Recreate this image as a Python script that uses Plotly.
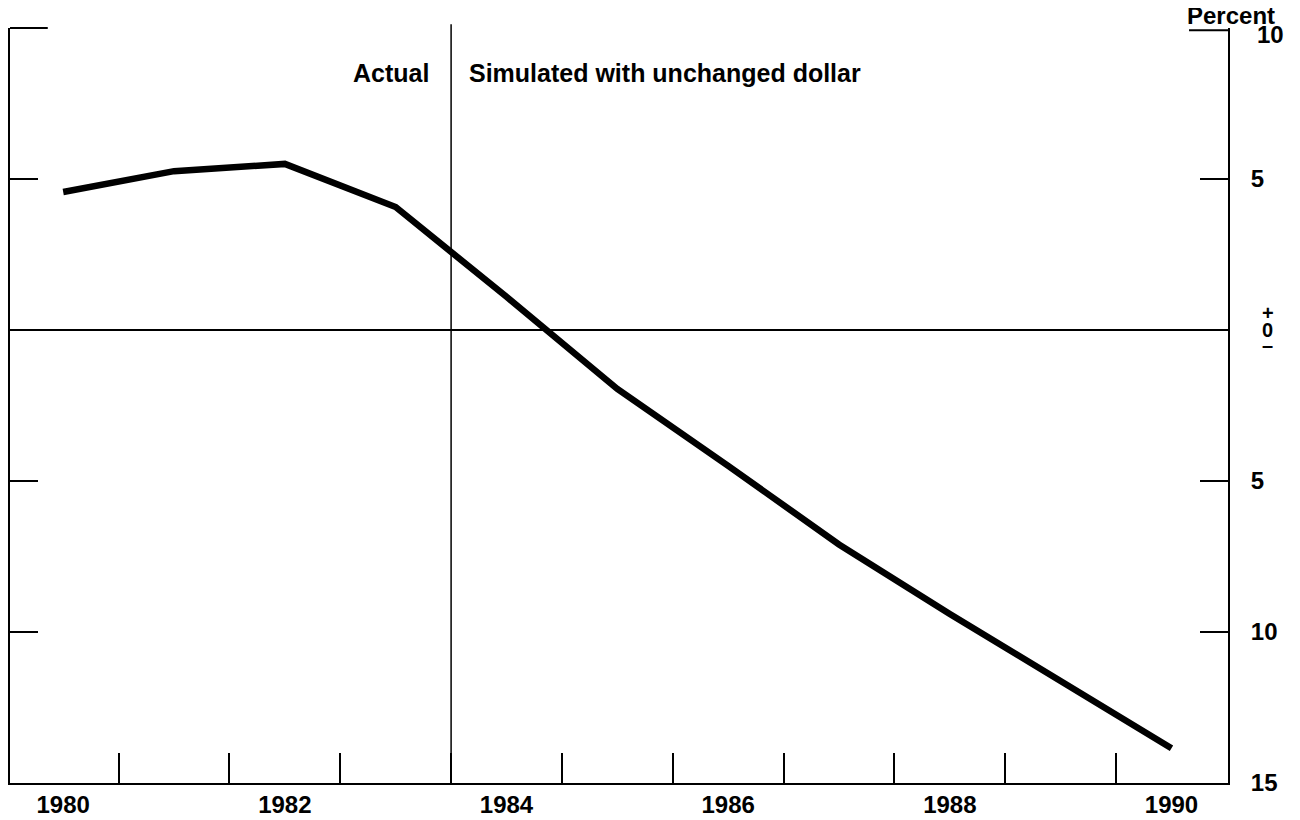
import plotly.graph_objects as go

# Values (percent)
years = [1980, 1981, 1982, 1983, 1984, 1985, 1986, 1987, 1988, 1989, 1990]
values = [4.57, 5.26, 5.50, 4.07, 1.10, -1.95, -4.50, -7.10, -9.40, -11.60, -13.85]

label_years = [1980, 1982, 1984, 1986, 1988, 1990]
minor_ticks = [1980.5, 1981.5, 1982.5, 1983.5, 1984.5, 1985.5, 1986.5, 1987.5, 1988.5, 1989.5]
y_ticks = [10, 5, 0, -5, -10, -15]
# 10 and 0 are placed by hand (annotations) as in the original
y_ticktext = ["", "<b>5</b>", "", "<b>5</b>", "<b>10</b>", "<b>15</b>"]
split_year = 1983.5

xr = [1979.52, 1990.51]
yr = [-15, 10]
font = dict(family="Liberation Sans, Arial, sans-serif", size=24, color="black")

fig = go.Figure()
fig.add_trace(go.Scatter(x=years, y=values, mode="lines",
                         line=dict(color="black", width=6.5),
                         hoverinfo="skip", showlegend=False))
# invisible trace so the right/label axes get drawn
fig.add_trace(go.Scatter(x=[xr[0]], y=[yr[0]], xaxis="x2", yaxis="y2",
                         mode="markers", marker=dict(opacity=0),
                         hoverinfo="skip", showlegend=False))

fig.update_layout(
    width=1300, height=820,
    margin=dict(l=2, r=80, t=20, b=45),
    plot_bgcolor="white", paper_bgcolor="white",
    font=font,
    xaxis=dict(range=xr, tickvals=minor_ticks, ticks="inside", ticklen=30,
               tickwidth=1.5, tickcolor="black", showticklabels=False,
               showline=True, linecolor="black", linewidth=2,
               showgrid=False, zeroline=False, fixedrange=True, automargin=False),
    xaxis2=dict(range=xr, overlaying="x", side="bottom", anchor="y",
                tickvals=label_years,
                ticktext=["<b>%d</b>" % y for y in label_years],
                ticks="", showline=False, showgrid=False, zeroline=False,
                tickfont=font, ticklabelstandoff=5, fixedrange=True,
                automargin=False),
    yaxis=dict(range=yr, tickvals=[5, -5, -10], ticks="inside", ticklen=28,
               tickwidth=1.5, tickcolor="black", showticklabels=False,
               showline=True, linecolor="black", linewidth=2,
               showgrid=False, zeroline=True, zerolinecolor="black",
               zerolinewidth=2, fixedrange=True, automargin=False),
    yaxis2=dict(range=yr, overlaying="y", side="right", anchor="x2",
                tickvals=y_ticks, ticktext=y_ticktext, ticks="inside",
                ticklen=28, tickwidth=1.5, tickcolor="black",
                showline=True, linecolor="black", linewidth=2,
                showgrid=False, zeroline=False, tickfont=font,
                ticklabelstandoff=16, fixedrange=True, automargin=False),
)

shapes = [
    # split between actual and simulated
    dict(type="line", xref="x", yref="paper", x0=split_year, x1=split_year,
         y0=0, y1=1.005, line=dict(color="black", width=1.5)),
    # short corner ticks at the top
    dict(type="line", xref="paper", yref="paper", x0=0, x1=0.031, y0=1, y1=1,
         line=dict(color="black", width=2)),
    dict(type="line", xref="paper", yref="paper", x0=0.968, x1=1, y0=0.997, y1=0.997,
         line=dict(color="black", width=2)),
]
fig.update_layout(shapes=shapes)

ann_font = dict(font, size=25)
fig.add_annotation(x=split_year, y=8.5, xref="x", yref="y", text="<b>Actual</b>",
                   showarrow=False, xanchor="right", xshift=-20, font=ann_font)
fig.add_annotation(x=split_year, y=8.5, xref="x", yref="y",
                   text="<b>Simulated with unchanged dollar</b>",
                   showarrow=False, xanchor="left", xshift=16, font=ann_font)
fig.add_annotation(x=1.0025, y=1.0159, xref="paper", yref="paper",
                   text="<b>Percent</b>", showarrow=False, xanchor="center",
                   yanchor="middle", font=font)
fig.add_annotation(x=1.0345, y=10, xref="paper", yref="y", text="<b>10</b>",
                   showarrow=False, xanchor="center", yanchor="middle",
                   yshift=-6, font=font)
small = dict(font, size=20)
fig.add_annotation(x=1.0328, y=0, xref="paper", yref="y", text="<b>0</b>",
                   showarrow=False, xanchor="center", yanchor="middle", font=small)
fig.add_annotation(x=1.0328, y=0, xref="paper", yref="y", text="<b>+</b>",
                   showarrow=False, xanchor="center", yanchor="middle",
                   yshift=17, font=small)
fig.add_annotation(x=1.0328, y=0, xref="paper", yref="y", text="<b>\u2013</b>",
                   showarrow=False, xanchor="center", yanchor="middle",
                   yshift=-15, font=small)

fig.write_html("out.html")
